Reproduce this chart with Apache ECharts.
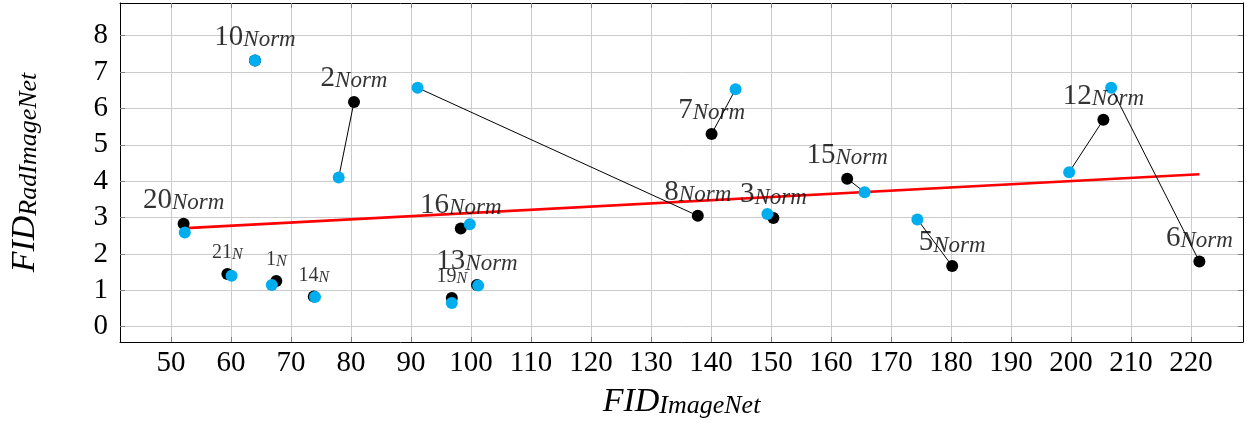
<!DOCTYPE html>
<html><head><meta charset="utf-8">
<script src="https://cdn.jsdelivr.net/npm/echarts@6/dist/echarts.min.js"></script>
<style>html,body{margin:0;padding:0;background:#fff}#c{width:1247px;height:425px}</style>
</head><body><div id="c"></div>
<script>
// ---- data ----
const labelMain = ['1','2','3','5','6','7','8','10','12','13','14','15','16','19','20','21'];
const labelSub  = ['N','Norm','Norm','Norm','Norm','Norm','Norm','Norm','Norm','Norm','N','Norm','Norm','N','Norm','N'];
const blackX = [67.55, 80.5, 150.4, 180.2, 221.4, 140.1, 137.8, 64.0, 205.4, 101.0, 73.8, 162.7, 98.3, 96.8, 52.1, 59.4];
const blackY = [1.26, 6.18, 2.99, 1.67, 1.79, 5.30, 3.05, 7.32, 5.69, 1.15, 0.83, 4.07, 2.70, 0.79, 2.83, 1.45];
const cyanX  = [66.8, 77.95, 149.4, 174.4, 206.7, 144.1, 91.1, 64.0, 199.7, 101.2, 74.0, 165.6, 99.8, 96.8, 52.3, 60.1];
const cyanY  = [1.15, 4.10, 3.10, 2.95, 6.57, 6.53, 6.57, 7.32, 4.25, 1.13, 0.82, 3.70, 2.82, 0.65, 2.59, 1.40];
const trendX = [52.5, 221.4];
const trendY = [2.71, 4.19];
const xTicks = [50,60,70,80,90,100,110,120,130,140,150,160,170,180,190,200,210,220];
const yTicks = [0,1,2,3,4,5,6,7,8];
const xTitleMain = 'FID', xTitleSub = 'ImageNet';
const yTitleMain = 'FID', yTitleSub = 'RadImageNet';

// ---- chart ----
const FF = 'Liberation Serif';
const chart = echarts.init(document.getElementById('c'), null, {renderer: 'canvas'});
const titleRich = {
  a: {fontFamily: FF, fontStyle: 'italic', fontSize: 34, lineHeight: 36, color: '#000', verticalAlign: 'bottom'},
  b: {fontFamily: FF, fontStyle: 'italic', fontSize: 26, lineHeight: 18, color: '#000', verticalAlign: 'bottom'}
};
const labelRich = {
  a: {fontFamily: FF, fontSize: 29, lineHeight: 30, color: '#000', verticalAlign: 'bottom'},
  b: {fontFamily: FF, fontStyle: 'italic', fontSize: 23, lineHeight: 17, color: '#000', verticalAlign: 'bottom'},
  c: {fontFamily: FF, fontSize: 20, lineHeight: 20, color: '#000', verticalAlign: 'bottom'},
  d: {fontFamily: FF, fontStyle: 'italic', fontSize: 16, lineHeight: 11, color: '#000', verticalAlign: 'bottom'}
};
const tickStyle = {color: '#808080', width: 1};
const axisLineStyle = {color: '#000', width: 1};
function xAx(pos, main) {
  return {
    type: 'value', gridIndex: 0, position: pos, min: 41.5, max: 228.67,
    axisLine: {show: true, onZero: false, lineStyle: axisLineStyle},
    axisTick: {show: true, inside: true, length: 5, customValues: xTicks, lineStyle: tickStyle},
    axisLabel: {show: main, customValues: xTicks, fontFamily: FF, fontSize: 29, color: '#000', margin: 7},
    splitLine: {show: main, lineStyle: {color: '#cccccc', width: 1}},
    name: main ? '{a|' + xTitleMain + '}{b|' + xTitleSub + '}' : '',
    nameLocation: 'middle', nameGap: 41,
    nameTextStyle: {color: '#000', rich: titleRich}
  };
}
function yAx(pos, main) {
  return {
    type: 'value', gridIndex: 0, position: pos, min: -0.42, max: 8.9,
    axisLine: {show: true, onZero: false, lineStyle: axisLineStyle},
    axisTick: {show: true, inside: true, length: 5, customValues: yTicks, lineStyle: tickStyle},
    axisLabel: {show: main, customValues: yTicks, fontFamily: FF, fontSize: 29, color: '#000', margin: 12},
    splitLine: {show: main, lineStyle: {color: '#cccccc', width: 1}},
    name: main ? '{a|' + yTitleMain + '}{b|' + yTitleSub + '}' : '',
    nameLocation: 'middle', nameGap: 78,
    nameTextStyle: {color: '#000', rich: titleRich}
  };
}

const pairLines = blackX.map((x, i) => ({coords: [[x, blackY[i]], [cyanX[i], cyanY[i]]]}));
const labelData = blackX.map((x, i) => {
  const small = labelSub[i] === 'N';
  return {
    value: [x, blackY[i]],
    label: {
      show: true, position: 'top', distance: small ? 5 : 3, color: '#000',
      formatter: small ? '{c|' + labelMain[i] + '}{d|' + labelSub[i] + '}'
                       : '{a|' + labelMain[i] + '}{b|' + labelSub[i] + '}',
      rich: labelRich
    }
  };
});

chart.setOption({
  animation: false,
  backgroundColor: '#fff',
  grid: {left: 120, top: 3, width: 1123, height: 339, containLabel: false, outerBoundsMode: 'none'},
  xAxis: [xAx('bottom', true), xAx('top', false)],
  yAxis: [yAx('left', true), yAx('right', false)],
  series: [
    {type: 'line', z: 2, data: trendX.map((x, i) => [x, trendY[i]]), showSymbol: false, symbol: 'none',
     lineStyle: {color: '#ff0000', width: 2.6}},
    {type: 'lines', z: 3, coordinateSystem: 'cartesian2d', data: pairLines,
     lineStyle: {color: '#000', width: 1, opacity: 1, curveness: 0}},
    {type: 'scatter', z: 4, symbol: 'circle', symbolSize: 12, data: blackX.map((x, i) => [x, blackY[i]]),
     itemStyle: {color: '#000', opacity: 1}},
    {type: 'scatter', z: 5, symbol: 'circle', symbolSize: 12, data: cyanX.map((x, i) => [x, cyanY[i]]),
     itemStyle: {color: '#00AEEF', opacity: 1}},
    {type: 'scatter', z: 6, symbol: 'circle', symbolSize: 12, data: labelData,
     itemStyle: {color: 'rgba(0,0,0,0)'}, silent: true}
  ]
});
</script></body></html>
